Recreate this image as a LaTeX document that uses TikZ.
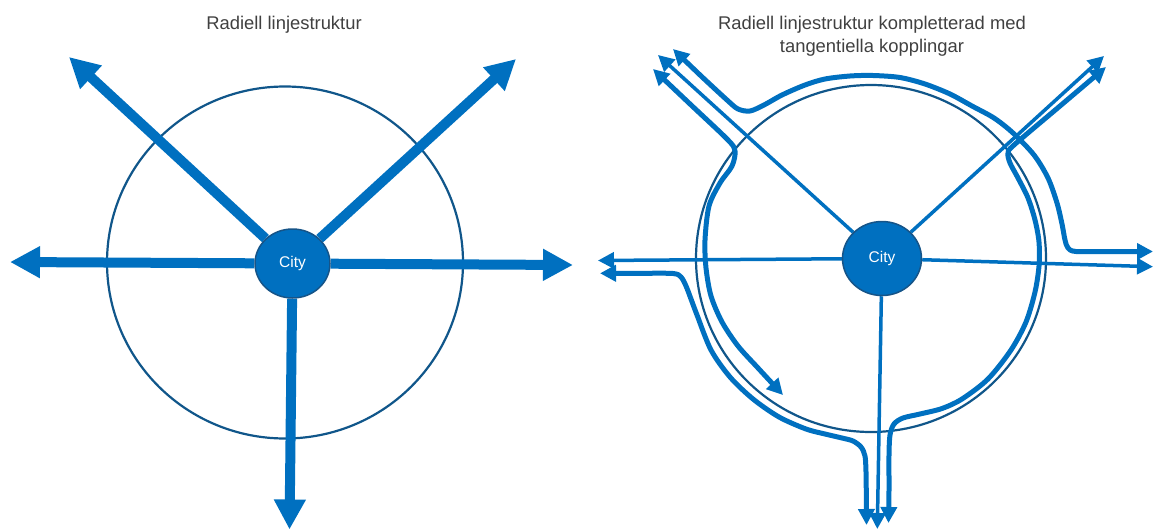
\documentclass[tikz,border=0pt]{standalone}
\usepackage{fontspec}
\setmainfont{Liberation Sans}
\usetikzlibrary{arrows.meta,backgrounds,shapes.geometric}
\definecolor{lineblue}{RGB}{0,112,192}
\definecolor{ringblue}{RGB}{16,86,138}
\definecolor{cityedge}{RGB}{22,84,136}
\definecolor{titlegray}{RGB}{64,64,64}
\tikzset{
  titletext/.style={font=\fontsize{18.4}{22}\selectfont, text=titlegray, inner sep=0pt, anchor=base},
  citynode/.style={ellipse, fill=lineblue, draw=cityedge, line width=1.5pt, text=white, font=\fontsize{15.5}{18}\selectfont, inner sep=0pt},
  ring/.style={draw=ringblue, line width=2.2pt},
  thickradial/.style={draw=lineblue, line width=10pt, -{Triangle[length=30pt,width=30pt]}},
  thinradial/.style={draw=lineblue, line width=3.5pt, -{Triangle[length=16pt,width=16pt]}},
  tangential/.style={draw=lineblue, line width=5pt, line join=round, {Triangle[length=16pt,width=16pt]}-{Triangle[length=16pt,width=16pt]}},
}
\begin{document}
\begin{tikzpicture}[x=1pt,y=-1pt]
\useasboundingbox (0,0) rectangle (1154,530);
% titles
\node[titletext] (titleL) at (284,29) {Radiell linjestruktur};
\node[titletext] (titleR1) at (872,29) {Radiell linjestruktur kompletterad med};
\node[titletext] (titleR2) at (872,52) {tangentiella kopplingar};
% city nodes
\node[citynode, minimum width=75pt, minimum height=69pt] (cityL) at (292.5,263.5) {City};
\node[citynode, minimum width=79pt, minimum height=74pt] (cityR) at (882,258.5) {City};
% end points
\coordinate (lNW) at (69,57);
\coordinate (lNE) at (516,59);
\coordinate (lW) at (10,262);
\coordinate (lE) at (573,265);
\coordinate (lS) at (289.5,529.5);
\coordinate (rNW) at (658,55);
\coordinate (rNE) at (1104,56);
\coordinate (rW) at (598,260.5);
\coordinate (rE) at (1153,266.7);
\coordinate (rS) at (877.3,529);
\coordinate (aNW) at (673,49);
\coordinate (aE) at (1153,251.5);
\coordinate (dNW) at (653,69);
\coordinate (dSW) at (783,395);
\coordinate (cW) at (600,273.3);
\coordinate (cS) at (866.5,525);
\coordinate (bNE) at (1106,67);
\coordinate (bS) at (888.5,523);
\begin{scope}[on background layer]
  % rings
  \draw[ring] (285,262.5) ellipse [x radius=178, y radius=176];
  \draw[ring] (871,258.5) ellipse [x radius=175, y radius=173.5];
  % left radial lines
  \draw[thickradial] (cityL) -- (lNW);
  \draw[thickradial] (cityL) -- (lNE);
  \draw[thickradial] (cityL) -- (lW);
  \draw[thickradial] (cityL) -- (lE);
  \draw[thickradial] (cityL) -- (lS);
  % right radial lines
  \draw[thinradial] (cityR) -- (rNW);
  \draw[thinradial] (cityR) -- (rNE);
  \draw[thinradial] (cityR) -- (rW);
  \draw[thinradial] (cityR) -- (rE);
  \draw[thinradial] (cityR) -- (rS);
  % tangential lines
  \draw[tangential] plot[smooth, tension=0.5] coordinates {(aNW) (700,75) (727,100) (738,109) (750,111) (764,105) (782,95) (805,85) (825,79) (850,76) (873,75.5) (900,77.5) (925,84) (950,94) (972,106) (994,118) (1013,133) (1034,155) (1048,178) (1057,203) (1062,224) (1065,240) (1068,248) (1076,251.5) (1110,251.5) (aE)};
  \draw[tangential] plot[smooth, tension=0.5] coordinates {(dNW) (690,104) (728,140) (735,151) (732,166) (720,183) (709,206) (705,240) (706,268) (711,296) (722,322) (738,346) (758,368) (dSW)};
  \draw[tangential] plot[smooth, tension=0.5] coordinates {(cW) (640,273.3) (673,273.5) (681,277) (686,286) (691,299) (697,315) (711,350) (730,377) (753,399) (779,417) (806,429) (825,434) (842,438) (853,441) (861,447) (865,456) (866,472) (866.3,495) (cS)};
  \draw[tangential] plot[smooth, tension=0.5] coordinates {(bNE) (1060,106) (1014,145) (1008,153) (1010,163) (1018,178) (1028,198) (1035,220) (1039,242) (1039,266) (1035,292) (1026,322) (1011,350) (988,379) (962,399) (942,408.5) (920,414) (903,418) (894,424) (890,435) (889,455) (889,490) (bS)};
\end{scope}
\end{tikzpicture}
\end{document}
